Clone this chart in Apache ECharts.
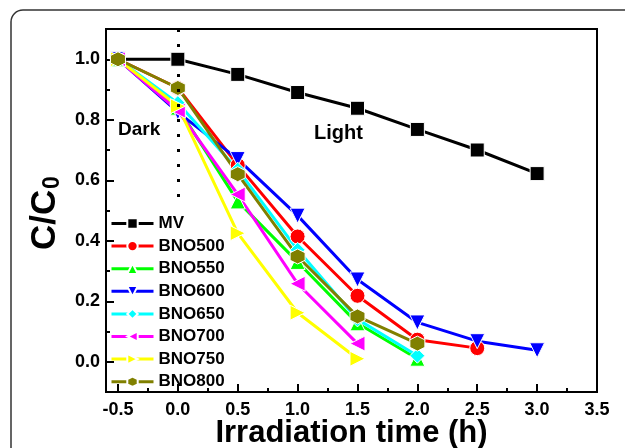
<!DOCTYPE html>
<html>
<head>
<meta charset="utf-8">
<script src="https://cdn.jsdelivr.net/npm/echarts@6/dist/echarts.min.js"></script>
<style>
  html, body { margin: 0; padding: 0; background: #fff; }
  #chart { width: 625px; height: 448px; }
</style>
</head>
<body>
<div id="chart"></div>
<script>
// irradiation time (h)
var times = [-0.5, 0, 0.5, 1.0, 1.5, 2.0, 2.5, 3.0];

// C/C0 per sample
var mv     = [1.0, 1.0, 0.95, 0.89, 0.838, 0.768, 0.70, 0.622];
var bno500 = [1.0, 0.905, 0.65, 0.414, 0.218, 0.073, 0.045];
var bno550 = [1.0, 0.84, 0.53, 0.33, 0.127, 0.01];
var bno600 = [1.0, 0.825, 0.67, 0.483, 0.272, 0.13, 0.068, 0.038];
var bno650 = [1.0, 0.855, 0.635, 0.37, 0.14, 0.02];
var bno700 = [1.0, 0.83, 0.553, 0.258, 0.06];
var bno750 = [1.0, 0.845, 0.425, 0.162, 0.01];
var bno800 = [1.0, 0.905, 0.62, 0.348, 0.15, 0.06];

// axis ticks
var xTicks = [-0.5, 0, 0.5, 1.0, 1.5, 2.0, 2.5, 3.0, 3.5];
var xMinorTicks = [-0.25, 0.25, 0.75, 1.25, 1.75, 2.25, 2.75, 3.25];
var yTicks = [0, 0.2, 0.4, 0.6, 0.8, 1.0];
var yMinorTicks = [0.1, 0.3, 0.5, 0.7, 0.9];

var FONT = "'Liberation Sans', Arial, sans-serif";
var hexagon = 'path://M0,-1 L0.866,-0.5 L0.866,0.5 L0,1 L-0.866,0.5 L-0.866,-0.5 Z';

function pairs(values) {
  return values.map(function (v, i) { return [times[i], v]; });
}

function makeSeries(name, values, color, symbol, size, rotate) {
  return {
    name: name,
    type: 'line',
    data: pairs(values),
    symbol: symbol,
    symbolSize: size,
    symbolRotate: rotate || 0,
    lineStyle: { color: color, width: 3 },
    itemStyle: { color: color, borderColor: '#fff', borderWidth: 1 },
    emphasis: { disabled: true }
  };
}

var series = [
  makeSeries('MV', mv, '#000000', 'rect', 14),
  makeSeries('BNO500', bno500, '#ff0000', 'circle', 15),
  makeSeries('BNO550', bno550, '#00ff00', 'triangle', 15),
  makeSeries('BNO600', bno600, '#0000ff', 'triangle', 15, 180),
  makeSeries('BNO650', bno650, '#00ffff', 'diamond', 15),
  makeSeries('BNO700', bno700, '#ff00ff', 'triangle', 15, 90),
  makeSeries('BNO750', bno750, '#ffff00', 'triangle', 15, -90),
  makeSeries('BNO800', bno800, '#808000', hexagon, 15)
];

// dotted divider between dark and light stage
series[0].markLine = {
  silent: true,
  symbol: 'none',
  label: { show: false },
  lineStyle: { color: '#000', width: 3, type: [3, 12] },
  data: [[{ coord: [0, 1.1] }, { coord: [0, 0.51] }]]
};

var chart = echarts.init(document.getElementById('chart'));

var option = {
  animation: false,
  textStyle: { fontFamily: FONT },
  grid: {
    left: 106, top: 29, right: 28, bottom: 56,
    containLabel: false,
    outerBoundsMode: 'none',
    show: true, borderColor: '#000', borderWidth: 2, backgroundColor: 'transparent'
  },
  legend: {
    orient: 'vertical',
    left: 110,
    top: 215,
    padding: 0,
    itemWidth: 42,
    itemHeight: 13,
    itemGap: 5.6,
    lineStyle: { width: 3 },
    textStyle: { fontSize: 17, fontWeight: 'bold', color: '#000', fontFamily: FONT },
    data: series.map(function (s) { return s.name; })
  },
  xAxis: [{
    type: 'value',
    min: -0.6,
    max: 3.5,
    name: 'Irradiation time (h)',
    nameLocation: 'middle',
    nameGap: 26,
    nameMoveOverlap: false,
    nameTextStyle: { fontSize: 31, fontWeight: 'bold', color: '#000', fontFamily: FONT },
    axisLine: { onZero: false, lineStyle: { color: '#000', width: 2 } },
    axisTick: { inside: true, length: 8, customValues: xTicks, lineStyle: { color: '#000', width: 2 } },
    axisLabel: {
      customValues: xTicks, margin: 9,
      fontSize: 18, fontWeight: 'bold', color: '#000', fontFamily: FONT,
      formatter: function (v) { return v.toFixed(1); }
    },
    splitLine: { show: false }
  }, {
    type: 'value',
    position: 'bottom',
    min: -0.6,
    max: 3.5,
    axisLine: { show: false, onZero: false },
    axisTick: { inside: true, length: 4, customValues: xMinorTicks, lineStyle: { color: '#000', width: 2 } },
    axisLabel: { show: false },
    splitLine: { show: false }
  }],
  yAxis: [{
    type: 'value',
    min: -0.1,
    max: 1.1,
    axisLine: { show: true, onZero: false, lineStyle: { color: '#000', width: 2 } },
    axisTick: { show: true, inside: true, length: 8, customValues: yTicks, lineStyle: { color: '#000', width: 2 } },
    axisLabel: {
      customValues: yTicks, margin: 6,
      fontSize: 18, fontWeight: 'bold', color: '#000', fontFamily: FONT,
      formatter: function (v) { return v.toFixed(1); }
    },
    splitLine: { show: false }
  }, {
    type: 'value',
    position: 'left',
    min: -0.1,
    max: 1.1,
    axisLine: { show: false, onZero: false },
    axisTick: { show: true, inside: true, length: 4, customValues: yMinorTicks, lineStyle: { color: '#000', width: 2 } },
    axisLabel: { show: false },
    splitLine: { show: false }
  }],
  graphic: [
    {
      // rounded frame of the figure panel
      type: 'rect',
      silent: true,
      z: -10,
      shape: { x: 11, y: 10, width: 700, height: 500, r: 12 },
      style: { fill: 'none', stroke: '#333', lineWidth: 1.5 }
    },
    {
      type: 'group',
      x: 45,
      y: 208,
      rotation: Math.PI / 2,
      children: [
        {
          type: 'text',
          x: -42,
          y: 0,
          style: { text: 'C/C', fontSize: 35, fontWeight: 'bold', fontFamily: FONT, fill: '#000', textVerticalAlign: 'middle' }
        },
        {
          type: 'text',
          x: 19,
          y: 8,
          style: { text: '0', fontSize: 23, fontWeight: 'bold', fontFamily: FONT, fill: '#000', textVerticalAlign: 'middle' }
        }
      ]
    },
    {
      type: 'text',
      x: 118,
      y: 130,
      style: { text: 'Dark', fontSize: 19, fontWeight: 'bold', fontFamily: FONT, fill: '#000', textVerticalAlign: 'middle' }
    },
    {
      type: 'text',
      x: 314,
      y: 133,
      style: { text: 'Light', fontSize: 20, fontWeight: 'bold', fontFamily: FONT, fill: '#000', textVerticalAlign: 'middle' }
    }
  ],
  series: series
};

chart.setOption(option);
</script>
</body>
</html>
